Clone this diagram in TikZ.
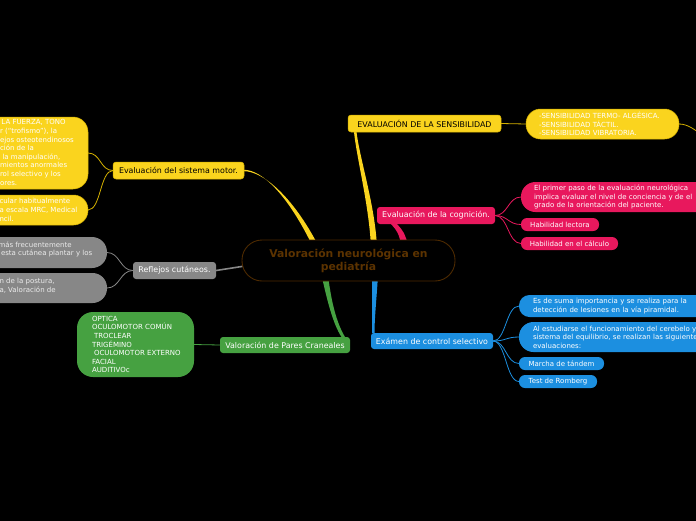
\documentclass[tikz,border=0pt]{standalone}
\usepackage{fontspec}
\setmainfont{DejaVu Sans}
\usetikzlibrary{calc,backgrounds}
\definecolor{cyel}{HTML}{FAD41E}
\definecolor{cyelb}{HTML}{D4B000}
\definecolor{cpink}{HTML}{E8185D}
\definecolor{cblue}{HTML}{1C8FE0}
\definecolor{cgreen}{HTML}{46A141}
\definecolor{cgray}{HTML}{878787}
\definecolor{cbrown}{HTML}{5C3300}
\definecolor{cbrownb}{HTML}{4D2A00}
\newcommand\leaffont{\fontsize{7}{8.6}\selectfont}
\newcommand\labfont{\fontsize{7.9}{9.5}\selectfont}
\begin{document}
\begin{tikzpicture}[x=1pt,y=-1pt,
  box/.style={inner sep=0pt, outer sep=0pt, anchor=center},
  lab/.style={box, rounded corners=3pt, font=\labfont, text=white},
  leaf/.style={box, font=\leaffont, text=white},
  frag/.style={inner sep=0pt, outer sep=0pt, anchor=west, font=\leaffont, align=left},
  central/.style={box, fill=black, draw=cbrownb, line width=0.9pt, rounded corners=20pt,
    minimum width=213pt, minimum height=41pt,
    font=\fontsize{10.8}{12.7}\selectfont\bfseries, text=cbrown, align=center},
  thinc/.style={line width=0.8pt},
]
\useasboundingbox (0,0) rectangle (696,520);
\begin{scope}[on background layer]
  \fill[black] (-20,-20) rectangle (716,540);
\end{scope}
\clip (0,0) rectangle (696,520);

% central
\node[central] (c) at (348.5,260.5) {Valoración neurológica en\\pediatría};

% ---- sensibilidad
\node[lab, fill=cyel, draw=cyelb, line width=0.5pt, text=black, minimum width=153pt, minimum height=17pt] (sens) at (424.5,123.5) {EVALUACIÓN DE LA SENSIBILIDAD};
\node[leaf, fill=cyel, draw=cyelb, line width=0.5pt, rounded corners=14.5pt, minimum height=30pt, text width=127pt, inner xsep=13pt, align=left] (sl) at (602.5,124)
  {\mbox{-SENSIBILIDAD TERMO- ALGÉSICA.}\\-SENSIBILIDAD TÁCTIL.\\-SENSIBILIDAD VIBRATORIA.};
\coordinate (offr) at (702,135);

% ---- motor
\node[lab, fill=cyel, draw=cyelb, line width=0.5pt, text=black, minimum width=131pt, minimum height=17pt] (motor) at (178.5,170.5) {Evaluación del sistema motor.};
\node[box, fill=cyel, draw=cyelb, line width=0.5pt, rounded corners=15pt, minimum width=188pt, minimum height=72pt] (m1) at (-6,153) {};
\node[frag, text=white] (m1t) at (0,152.5) {\hspace*{1.5pt}LA FUERZA, TONO\\r (“trofismo”), la\\ejos osteotendinosos\\ción de la\\\hspace*{2.5pt}la manipulación,\\mientos anormales\\rol selectivo y los\\ores.};
\node[box, fill=cyel, draw=cyelb, line width=0.5pt, rounded corners=14.5pt, minimum width=188pt, minimum height=30pt] (m2) at (-6,210) {};
\node[frag, text=white, font=\fontsize{7}{9.2}\selectfont] (m2t) at (-0.5,210) {cular habitualmente\\a escala MRC, Medical\\ncil.};

% ---- reflejos
\node[lab, fill=cgray, minimum width=83pt, minimum height=17pt] (refl) at (174.5,270.5) {Reflejos cutáneos.};
\node[box, fill=cgray, rounded corners=15pt, minimum width=207pt, minimum height=31pt] (gA) at (3.5,252.5) {};
\node[frag, text=white!92!black] (gAt) at (-1.5,249.5) {más frecuentemente\\\hspace*{2.5pt}esta cutánea plantar y los};
\node[box, fill=cgray, rounded corners=14.5pt, minimum width=207pt, minimum height=30pt] (gB) at (3.5,288) {};
\node[frag, text=white!92!black] (gBt) at (-0.5,285.5) {n de la postura,\\a, Valoración de};

% ---- pares craneales
\node[lab, fill=cgreen, minimum width=130pt, minimum height=16pt] (pares) at (285,345) {Valoración de Pares Craneales};
\node[leaf, fill=cgreen, rounded corners=16pt, minimum height=65pt, text width=87pt, inner xsep=15pt, align=left] (gl) at (135.5,344.5)
  {OPTICA\\\mbox{OCULOMOTOR COMÚN}\\\hspace*{2pt}TROCLEAR\\TRIGÉMINO\\\mbox{\hspace*{2pt}OCULOMOTOR EXTERNO}\\FACIAL\\AUDITIVOc};

% ---- cognicion
\node[lab, fill=cpink, minimum width=118pt, minimum height=17pt] (cog) at (436,215.5) {Evaluación de la cognición.};
\node[leaf, fill=cpink, rounded corners=14.5pt, minimum height=30pt, text width=215pt, inner xsep=13pt, align=left] (p1) at (641.5,197)
  {El primer paso de la evaluación neurológica\\implica evaluar el nivel de conciencia y de el\\grado de la orientación del paciente.};
\node[leaf, fill=cpink, rounded corners=6pt, minimum width=78pt, minimum height=13pt] (p2) at (560,224.5) {Habilidad lectora};
\node[leaf, fill=cpink, rounded corners=6pt, minimum width=97pt, minimum height=13pt] (p3) at (569.5,243.5) {Habilidad en el cálculo};

% ---- control selectivo
\node[lab, fill=cblue, minimum width=122pt, minimum height=16pt] (ctrl) at (432,341) {Exámen de control selectivo};
\node[leaf, fill=cblue, rounded corners=10.5pt, minimum height=22pt, text width=215pt, inner xsep=14pt, align=left] (b1) at (640.5,306)
  {Es de suma importancia y se realiza para la\\detección de lesiones en la vía piramidal.};
\node[leaf, fill=cblue, rounded corners=14.5pt, minimum height=30pt, text width=215pt, inner xsep=14pt, align=left] (b2) at (640.5,337)
  {Al estudiarse el funcionamiento del cerebelo y\\sistema del equilibrio, se realizan las siguientes\\evaluaciones:};
\node[leaf, fill=cblue, rounded corners=6pt, minimum width=85pt, minimum height=13pt] (b3) at (561.5,363.5) {Marcha de tándem};
\node[leaf, fill=cblue, rounded corners=6pt, minimum width=78pt, minimum height=13pt] (b4) at (558,381.5) {Test de Romberg};

% ---- thick branches (behind the nodes)
\begin{scope}[on background layer]
  \fill[cyel] ($(motor.east)+(0,-0.7)$) .. controls (262,169.8) and (288,195) .. (313,247)
     -- (319,247) .. controls (292,194.5) and (262,171.2) .. ($(motor.east)+(0,0.7)$) -- cycle;
  \fill[cyel] ($(sens.south west)+(6,0)$) .. controls (357,160) and (369,205) .. (371,247)
     -- (377,247) .. controls (375,205) and (360,160) .. ($(sens.south west)+(8.5,0)$) -- cycle;
  \fill[cpink] ($(cog.south west)+(14,0)$) .. controls (398,232) .. (402,247)
     -- (409,247) .. controls (404,232) .. ($(cog.south west)+(20,0)$) -- cycle;
  \fill[cblue] (372,275) -- (378,275) .. controls (376.5,300) and (374.5,318) .. ($(ctrl.north west)+(3.5,0)$)
     -- ($(ctrl.north west)+(1,0)$) .. controls (372,318) and (372,300) .. (372,275) -- cycle;
  \fill[cgreen] (321.5,275) -- (328,275) .. controls (331,300) and (336,322) .. ($(pares.north east)+(-5,0)$)
     -- ($(pares.north east)+(-8.5,0)$) .. controls (333,324) and (327,300) .. (321.5,275) -- cycle;
  \draw[cgray, line width=1.6pt] (refl.east) -- ($(c.west)+(3,5.5)$);
\end{scope}

% ---- thin connectors
\draw[cyelb, thinc] (sens.east) -- (sl.west);
\draw[cyelb, thinc] (sl.east) .. controls +(9,0) and +(-7,-5) .. (offr);
\draw[cyelb, thinc] (motor.west) .. controls +(-13,0) and +(13,0) .. (m1.east);
\draw[cyelb, thinc] (motor.west) .. controls +(-13,0) and +(13,0) .. (m2.east);
\draw[cgray, thinc] (refl.west) .. controls +(-13,0) and +(13,0) .. (gA.east);
\draw[cgray, thinc] (refl.west) .. controls +(-13,0) and +(13,0) .. (gB.east);
\draw[cgreen, thinc] (pares.west) -- (gl.east);
\foreach \t in {p1,p2,p3}
  \draw[cpink, thinc] (cog.east) .. controls +(13,0) and +(-13,0) .. (\t.west);
\foreach \t in {b1,b2,b3,b4}
  \draw[cblue, thinc] (ctrl.east) .. controls +(13,0) and +(-13,0) .. (\t.west);
\end{tikzpicture}
\end{document}
